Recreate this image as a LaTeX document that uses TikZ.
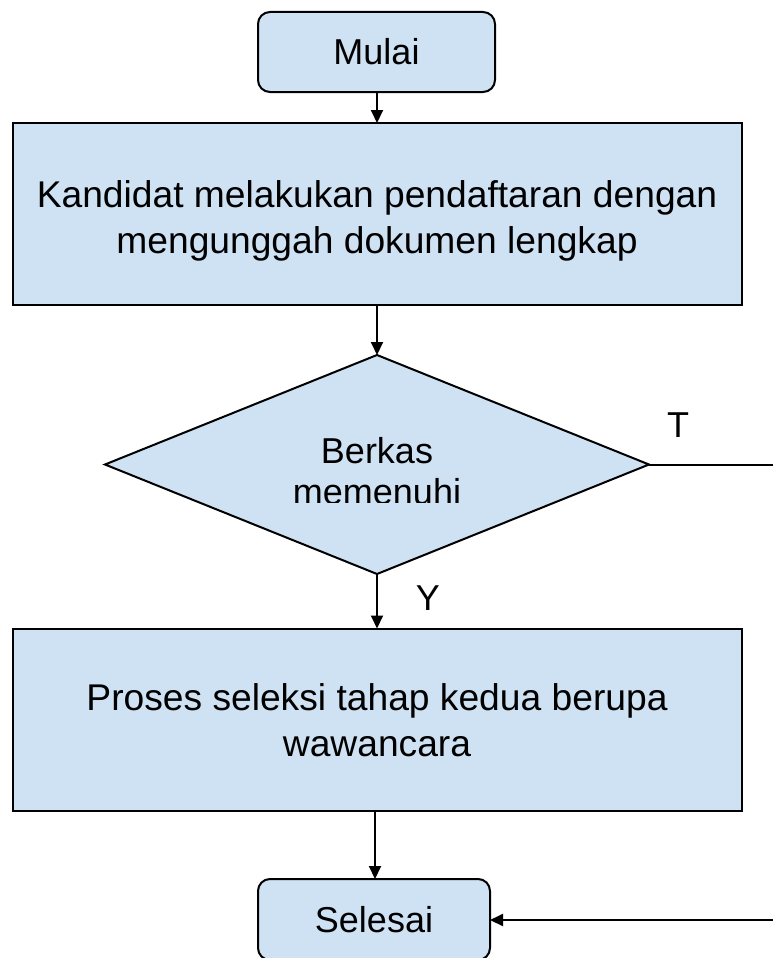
\documentclass[tikz,border=0pt]{standalone}
\usepackage{fontspec}
\setmainfont{Liberation Sans}
\usetikzlibrary{shapes.geometric,arrows.meta}
\definecolor{boxfill}{HTML}{CFE2F3}
\begin{document}
\begin{tikzpicture}[x=1pt,y=-1pt,
  every node/.style={inner sep=0pt,outer sep=0pt},
  txt/.style={font=\fontsize{37.2}{46}\selectfont,align=center},
  terminal/.style={draw=black,line width=2pt,fill=boxfill,rounded corners=12pt,
    minimum width=237pt,minimum height=80pt,font=\fontsize{36}{42}\selectfont},
  process/.style={draw=black,line width=2pt,fill=boxfill,
    minimum width=729pt,minimum height=182pt},
  decision/.style={draw=black,line width=2pt,fill=boxfill,diamond,
    minimum width=544pt,minimum height=219pt},
  conn/.style={line width=2pt,-{Triangle[length=13pt,width=12pt]}},
  plainline/.style={line width=2pt},
  lbl/.style={font=\fontsize{36}{42}\selectfont}]
\useasboundingbox (0,0) rectangle (773,958);
\node[terminal] (mulai) at (376.5,52) {Mulai};
\node[process] (box1) at (377,214) {};
\node[txt] (box1text) at (377,221) {Kandidat melakukan pendaftaran dengan\\mengunggah dokumen lengkap};
\node[decision] (dec) at (377,464.5) {};
\node[lbl,anchor=base] (dtext1) at (377,463) {Berkas};
\begin{scope}
  \clip (100,400) rectangle (650,502);
  \node[lbl,anchor=base] (dtext2) at (377,504) {memenuhi};
\end{scope}
\node[process] (box2) at (377,719.5) {};
\node[txt] (box2text) at (377,720) {Proses seleksi tahap kedua berupa\\wawancara};
\node[terminal,minimum width=232pt,minimum height=81pt] (selesai) at (374,919.5) {Selesai};
\coordinate (tend) at (773,464.5);
\coordinate (send) at (773,920);
\node[lbl] (tl) at (678,425) {T};
\node[lbl] (yl) at (428,598) {Y};
\draw[conn] (mulai.south -| box1.north) -- (box1.north);
\draw[conn] (box1.south) -- (dec.north);
\draw[conn] (dec.south) -- (box2.north);
\draw[conn] (box2.south -| 375,0) -- (375,0 |- selesai.north);
\draw[plainline] (dec.east) -- (tend);
\draw[conn] (send) -- (selesai.east |- send);
\end{tikzpicture}
\end{document}
